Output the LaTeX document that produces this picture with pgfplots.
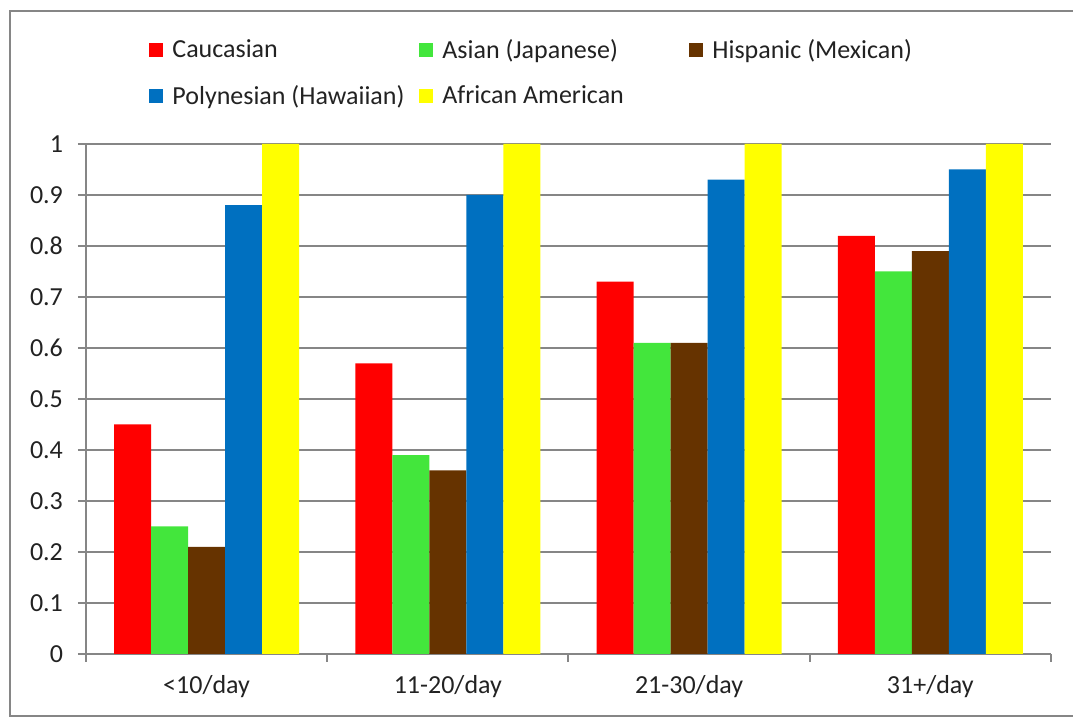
\documentclass[border=0pt]{standalone}
\usepackage{pgfplots}
\pgfplotsset{compat=1.18}
\usepackage{fontspec}
\setmainfont{Carlito}
\definecolor{cRed}{HTML}{FF0000}
\definecolor{cGreen}{HTML}{43E63C}
\definecolor{cBrown}{HTML}{663300}
\definecolor{cBlue}{HTML}{0070C0}
\definecolor{cYellow}{HTML}{FFFF00}
\definecolor{cGrid}{HTML}{868686}
\definecolor{cText}{HTML}{222222}
\begin{document}
\begin{tikzpicture}
\useasboundingbox (0pt,0pt) rectangle (536.5pt,359pt);
\draw[color=cGrid, line width=0.8pt] (5pt,0.9pt) rectangle (545pt,353.5pt);
\begin{axis}[
  at={(43pt,32pt)}, anchor=south west,
  scale only axis, width=482.5pt, height=255pt,
  ybar, bar width=18.5pt,
  xmin=-0.5, xmax=3.5, ymin=0, ymax=1,
  xtick={-0.5,0.5,1.5,2.5,3.5},
  x tick label as interval,
  xticklabels={<10/day,11-20/day,21-30/day,31+/day},
  ytick={0,0.1,0.2,0.3,0.4,0.5,0.6,0.7,0.8,0.9,1},
  yticklabels={0,0.1,0.2,0.3,0.4,0.5,0.6,0.7,0.8,0.9,1},
  ymajorgrids,
  axis x line*=bottom, axis y line*=left,
  axis line style={cGrid, line width=1pt},
  grid style={cGrid, line width=1pt},
  tick style={cGrid, line width=1pt},
  tick align=outside, major tick length=4pt,
  font=\fontsize{13}{15.6}\selectfont,
  tick label style={text=cText, font=\fontsize{13}{15.6}\selectfont},
  xticklabel style={yshift=-3pt},
  yticklabel style={xshift=-4pt},
  /pgf/number format/assume math mode=true,
  legend columns=3,
  legend cell align=left,
  legend style={at={(0.0653,1.2118)}, anchor=north west, draw=none, fill=none,
    inner sep=0pt, row sep=9pt, column sep=0pt,
    nodes={inner sep=1.5pt, text=cText},
    font=\fontsize{13}{15.6}\selectfont},
  legend image code/.code={\draw[#1,draw=none] (0pt,-3.5pt) rectangle (7pt,3.5pt);},
]
\addplot[fill=cRed, draw=none, bar shift=-37pt] coordinates {(0,0.45) (1,0.57) (2,0.73) (3,0.82)};
\addlegendentry{\makebox[125pt][l]{\hspace{3pt}Caucasian}}
\addplot[fill=cGreen, draw=none, bar shift=-18.5pt] coordinates {(0,0.25) (1,0.39) (2,0.61) (3,0.75)};
\addlegendentry{\makebox[125pt][l]{\hspace{3pt}Asian (Japanese)}}
\addplot[fill=cBrown, draw=none, bar shift=0pt] coordinates {(0,0.21) (1,0.36) (2,0.61) (3,0.79)};
\addlegendentry{\hspace{3pt}Hispanic (Mexican)}
\addplot[fill=cBlue, draw=none, bar shift=18.5pt] coordinates {(0,0.88) (1,0.90) (2,0.93) (3,0.95)};
\addlegendentry{\makebox[125pt][l]{\hspace{3pt}Polynesian (Hawaiian)}}
\addplot[fill=cYellow, draw=none, bar shift=37pt] coordinates {(0,1.0) (1,1.0) (2,1.0) (3,1.0)};
\addlegendentry{\makebox[125pt][l]{\hspace{3pt}African American}}
\end{axis}
\end{tikzpicture}
\end{document}
